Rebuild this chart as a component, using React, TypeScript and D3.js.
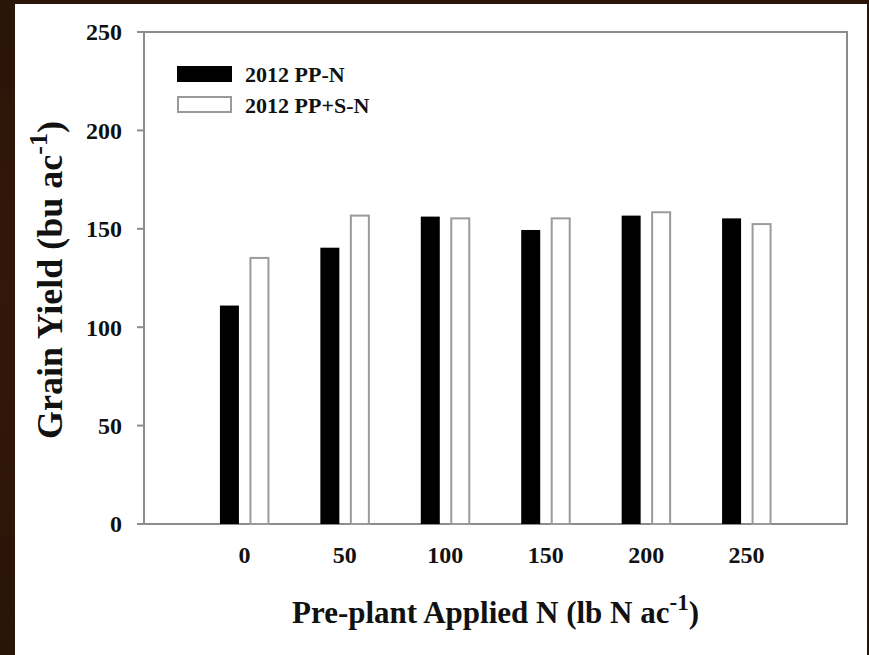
import React from "react";
import * as d3 from "d3";

const categories = [0, 50, 100, 150, 200, 250];
const seriesNames = ["2012 PP-N", "2012 PP+S-N"];
const ppN = [111, 140.4, 156.2, 149.4, 156.7, 155.3];
const ppSN = [135.2, 156.7, 155.3, 155.3, 158.4, 152.4];
const yTicks = [0, 50, 100, 150, 200, 250];

const W = 869;
const H = 655;
const left = 144, right = 847, top = 32, bottom = 524;
const FONT = "'Liberation Serif', 'Times New Roman', serif";

export default function App() {
  const x = d3.scaleLinear().domain([-50, 300]).range([left, right]);
  const y = d3.scaleLinear().domain([0, 250]).range([bottom, top]);
  const barW = 19;
  const off = 15;
  return (
    <div style={{ position: "fixed", left: 0, top: 0, width: W, height: H }}>
      <svg width={W} height={H} style={{ display: "block" }}>
        <defs>
          <linearGradient id="bandg" x1="0" y1="0" x2="0" y2="1">
            <stop offset="0" stopColor="#2a1508" />
            <stop offset="0.45" stopColor="#331709" />
            <stop offset="0.7" stopColor="#2f1608" />
            <stop offset="1" stopColor="#291408" />
          </linearGradient>
        </defs>
        <rect x={0} y={0} width={W} height={H} fill="url(#bandg)" />
        <rect x={15} y={4} width={852} height={H - 4} fill="#ffffff" />
        {/* frame */}
        <rect x={left} y={top} width={right - left} height={bottom - top} fill="none" stroke="#8c8c8c" strokeWidth={2} />
        {/* y ticks */}
        {yTicks.map((t) => (
          <g key={t}>
            <line x1={left - 7} x2={left} y1={y(t)} y2={y(t)} stroke="#8c8c8c" strokeWidth={2} />
            <text x={left - 22} y={y(t)} dy="0.35em" textAnchor="end" fontFamily={FONT} fontWeight="bold" fontSize={24} fill="#111">{t}</text>
          </g>
        ))}
        {/* bars */}
        {categories.map((c, i) => (
          <g key={c}>
            <rect x={x(c) - off - barW / 2} y={y(ppN[i])} width={barW} height={y(0) - y(ppN[i])} fill="#000" />
            <rect x={x(c) + off - barW / 2 + 0.5} y={y(ppSN[i])} width={barW - 1} height={y(0) - y(ppSN[i])} fill="#fff" stroke="#9a9a9a" strokeWidth={2} />
            <text x={x(c)} y={563} textAnchor="middle" fontFamily={FONT} fontWeight="bold" fontSize={24} fill="#111">{c}</text>
          </g>
        ))}
        {/* legend */}
        <rect x={177} y={66} width={55} height={16} fill="#000" />
        <rect x={178} y={97} width={53} height={15} fill="#fff" stroke="#9a9a9a" strokeWidth={2} />
        <text x={245} y={82} fontFamily={FONT} fontWeight="bold" fontSize={22} fill="#111">{seriesNames[0]}</text>
        <text x={245} y={113} fontFamily={FONT} fontWeight="bold" fontSize={22} fill="#111">{seriesNames[1]}</text>
        {/* x title */}
        <text x={(left + right) / 2} y={623} textAnchor="middle" fontFamily={FONT} fontWeight="bold" fontSize={31} fill="#111">
          Pre-plant Applied N (lb N ac<tspan dy={-13} fontSize={23}>-1</tspan><tspan dy={13}>)</tspan>
        </text>
        {/* y title */}
        <text transform={`translate(62, 280) rotate(-90)`} textAnchor="middle" fontFamily={FONT} fontWeight="bold" fontSize={36} fill="#111">
          Grain Yield (bu ac<tspan dy={-15} fontSize={26}>-1</tspan><tspan dy={15}>)</tspan>
        </text>
      </svg>
    </div>
  );
}
